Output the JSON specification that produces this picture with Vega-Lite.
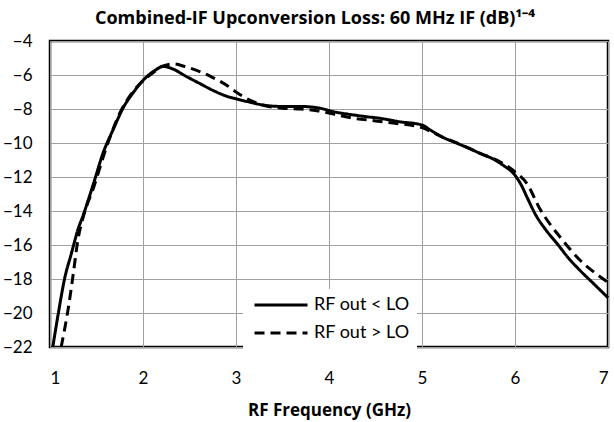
{
  "$schema": "https://vega.github.io/schema/vega-lite/v6.json",
  "autosize": "none",
  "width": 558,
  "height": 306,
  "padding": {"left": 50, "top": 41, "right": 6, "bottom": 75},
  "background": "white",
  "title": {
    "text": "Combined-IF Upconversion Loss: 60 MHz IF (dB)¹⁻⁴",
    "font": "Open Sans",
    "fontSize": 18,
    "fontWeight": "bold",
    "color": "black",
    "anchor": "middle",
    "frame": "group",
    "dx": -14,
    "offset": 4
  },
  "config": {
    "view": {"stroke": "black", "strokeWidth": 2.5},
    "axis": {
      "grid": true,
      "gridColor": "#a0a0a0",
      "gridWidth": 1,
      "domain": false,
      "ticks": false,
      "labelFont": "Lato",
      "labelFontSize": 17,
      "labelColor": "black",
      "titleFont": "Open Sans",
      "titleFontSize": 17,
      "titleFontWeight": "bold",
      "titleColor": "black"
    }
  },
  "data": {
    "values": [
      {"f": 1.03, "v": -22, "s": "RF out < LO"},
      {"f": 1.09, "v": -20, "s": "RF out < LO"},
      {"f": 1.16, "v": -17.9, "s": "RF out < LO"},
      {"f": 1.23, "v": -16.5, "s": "RF out < LO"},
      {"f": 1.3, "v": -15.1, "s": "RF out < LO"},
      {"f": 1.36, "v": -14.2, "s": "RF out < LO"},
      {"f": 1.47, "v": -12.35, "s": "RF out < LO"},
      {"f": 1.57, "v": -10.6, "s": "RF out < LO"},
      {"f": 1.68, "v": -9.2, "s": "RF out < LO"},
      {"f": 1.79, "v": -7.9, "s": "RF out < LO"},
      {"f": 1.9, "v": -7.0, "s": "RF out < LO"},
      {"f": 1.97, "v": -6.5, "s": "RF out < LO"},
      {"f": 2.11, "v": -5.8, "s": "RF out < LO"},
      {"f": 2.22, "v": -5.5, "s": "RF out < LO"},
      {"f": 2.3, "v": -5.6, "s": "RF out < LO"},
      {"f": 2.47, "v": -6.1, "s": "RF out < LO"},
      {"f": 2.61, "v": -6.5, "s": "RF out < LO"},
      {"f": 2.75, "v": -6.9, "s": "RF out < LO"},
      {"f": 2.9, "v": -7.25, "s": "RF out < LO"},
      {"f": 3.0, "v": -7.4, "s": "RF out < LO"},
      {"f": 3.15, "v": -7.6, "s": "RF out < LO"},
      {"f": 3.33, "v": -7.8, "s": "RF out < LO"},
      {"f": 3.5, "v": -7.85, "s": "RF out < LO"},
      {"f": 3.69, "v": -7.85, "s": "RF out < LO"},
      {"f": 3.9, "v": -7.95, "s": "RF out < LO"},
      {"f": 4.04, "v": -8.15, "s": "RF out < LO"},
      {"f": 4.2, "v": -8.3, "s": "RF out < LO"},
      {"f": 4.4, "v": -8.45, "s": "RF out < LO"},
      {"f": 4.55, "v": -8.55, "s": "RF out < LO"},
      {"f": 4.76, "v": -8.75, "s": "RF out < LO"},
      {"f": 5.0, "v": -8.94, "s": "RF out < LO"},
      {"f": 5.09, "v": -9.24, "s": "RF out < LO"},
      {"f": 5.2, "v": -9.6, "s": "RF out < LO"},
      {"f": 5.37, "v": -10.0, "s": "RF out < LO"},
      {"f": 5.5, "v": -10.3, "s": "RF out < LO"},
      {"f": 5.62, "v": -10.6, "s": "RF out < LO"},
      {"f": 5.75, "v": -10.9, "s": "RF out < LO"},
      {"f": 5.87, "v": -11.3, "s": "RF out < LO"},
      {"f": 6.0, "v": -11.9, "s": "RF out < LO"},
      {"f": 6.07, "v": -12.5, "s": "RF out < LO"},
      {"f": 6.13, "v": -13.2, "s": "RF out < LO"},
      {"f": 6.23, "v": -14.3, "s": "RF out < LO"},
      {"f": 6.33, "v": -15.1, "s": "RF out < LO"},
      {"f": 6.45, "v": -15.9, "s": "RF out < LO"},
      {"f": 6.58, "v": -16.8, "s": "RF out < LO"},
      {"f": 6.7, "v": -17.5, "s": "RF out < LO"},
      {"f": 6.85, "v": -18.3, "s": "RF out < LO"},
      {"f": 7.0, "v": -19.1, "s": "RF out < LO"},
      {"f": 1.12, "v": -22, "s": "RF out > LO"},
      {"f": 1.2, "v": -19.6, "s": "RF out > LO"},
      {"f": 1.25, "v": -17.7, "s": "RF out > LO"},
      {"f": 1.3, "v": -15.7, "s": "RF out > LO"},
      {"f": 1.36, "v": -14.3, "s": "RF out > LO"},
      {"f": 1.47, "v": -12.6, "s": "RF out > LO"},
      {"f": 1.61, "v": -10.2, "s": "RF out > LO"},
      {"f": 1.75, "v": -8.25, "s": "RF out > LO"},
      {"f": 1.85, "v": -7.3, "s": "RF out > LO"},
      {"f": 1.97, "v": -6.5, "s": "RF out > LO"},
      {"f": 2.1, "v": -5.9, "s": "RF out > LO"},
      {"f": 2.2, "v": -5.5, "s": "RF out > LO"},
      {"f": 2.33, "v": -5.35, "s": "RF out > LO"},
      {"f": 2.45, "v": -5.5, "s": "RF out > LO"},
      {"f": 2.61, "v": -5.8, "s": "RF out > LO"},
      {"f": 2.75, "v": -6.15, "s": "RF out > LO"},
      {"f": 2.9, "v": -6.6, "s": "RF out > LO"},
      {"f": 3.0, "v": -7.0, "s": "RF out > LO"},
      {"f": 3.2, "v": -7.6, "s": "RF out > LO"},
      {"f": 3.35, "v": -7.85, "s": "RF out > LO"},
      {"f": 3.5, "v": -7.95, "s": "RF out > LO"},
      {"f": 3.7, "v": -8.0, "s": "RF out > LO"},
      {"f": 3.87, "v": -8.1, "s": "RF out > LO"},
      {"f": 4.05, "v": -8.3, "s": "RF out > LO"},
      {"f": 4.22, "v": -8.5, "s": "RF out > LO"},
      {"f": 4.5, "v": -8.7, "s": "RF out > LO"},
      {"f": 4.73, "v": -8.85, "s": "RF out > LO"},
      {"f": 5.0, "v": -9.1, "s": "RF out > LO"},
      {"f": 5.2, "v": -9.6, "s": "RF out > LO"},
      {"f": 5.4, "v": -10.05, "s": "RF out > LO"},
      {"f": 5.62, "v": -10.6, "s": "RF out > LO"},
      {"f": 5.87, "v": -11.2, "s": "RF out > LO"},
      {"f": 6.0, "v": -11.7, "s": "RF out > LO"},
      {"f": 6.13, "v": -12.4, "s": "RF out > LO"},
      {"f": 6.27, "v": -13.9, "s": "RF out > LO"},
      {"f": 6.38, "v": -14.8, "s": "RF out > LO"},
      {"f": 6.48, "v": -15.5, "s": "RF out > LO"},
      {"f": 6.6, "v": -16.3, "s": "RF out > LO"},
      {"f": 6.7, "v": -16.9, "s": "RF out > LO"},
      {"f": 6.85, "v": -17.6, "s": "RF out > LO"},
      {"f": 7.0, "v": -18.2, "s": "RF out > LO"}
    ]
  },
  "mark": {"type": "line", "strokeWidth": 3, "interpolate": "monotone"},
  "encoding": {
    "x": {
      "field": "f",
      "type": "quantitative",
      "scale": {"domain": [1, 7], "nice": false},
      "axis": {"values": [1, 2, 3, 4, 5, 6, 7], "title": "RF Frequency (GHz)", "labelPadding": 23, "titlePadding": 16}
    },
    "y": {
      "field": "v",
      "type": "quantitative",
      "scale": {"domain": [-22, -4], "nice": false, "zero": false},
      "axis": {"values": [-22, -20, -18, -16, -14, -12, -10, -8, -6, -4], "title": null, "labelPadding": 18}
    },
    "color": {
      "field": "s",
      "type": "nominal",
      "scale": {"range": ["black", "black"]},
      "legend": {
        "title": null,
        "orient": "none",
        "legendX": 193,
        "legendY": 248,
        "padding": 7,
        "fillColor": "white",
        "symbolType": "M-5.3,0H5.3",
        "symbolSize": 100,
        "symbolStrokeWidth": 3,
        "symbolStrokeColor": "black",
        "symbolFillColor": "transparent",
        "symbolOffset": 22,
        "labelFont": "Lato",
        "labelFontSize": 18,
        "labelColor": "black",
        "labelOffset": 24,
        "rowPadding": 10
      }
    },
    "strokeDash": {
      "field": "s",
      "type": "nominal",
      "scale": {"range": [[1, 0], [10, 6]]},
      "legend": {
        "title": null,
        "orient": "none",
        "legendX": 193,
        "legendY": 248,
        "padding": 7,
        "fillColor": "white",
        "symbolType": "M-5.3,0H5.3",
        "symbolSize": 100,
        "symbolStrokeWidth": 3,
        "symbolStrokeColor": "black",
        "symbolFillColor": "transparent",
        "symbolOffset": 22,
        "labelFont": "Lato",
        "labelFontSize": 18,
        "labelColor": "black",
        "labelOffset": 24,
        "rowPadding": 10
      }
    }
  }
}
